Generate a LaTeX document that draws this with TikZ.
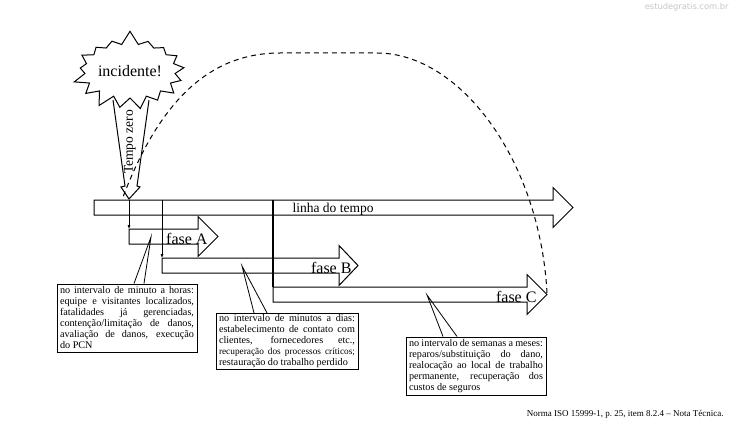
\documentclass[tikz,border=0pt]{standalone}
\usepackage{fontspec}
\setmainfont{Liberation Serif}
\newfontfamily\markfont{DejaVu Sans}
\usetikzlibrary{positioning, arrows.meta, shapes}

% block arrow: left x, centre y, head base x, tip x
\newcommand{\fasearrow}[4]{%
  \draw (#1,#2-7.5) -- (#3,#2-7.5) -- (#3,#2-20) -- (#4,#2) -- (#3,#2+20) -- (#3,#2+7.5) -- (#1,#2+7.5) -- cycle;}
\newcommand{\notafont}{\fontsize{10.2}{11}\selectfont\spaceskip=.25em plus 3em minus .2em\relax\hyphenpenalty=10000\relax}

\begin{document}
\begin{tikzpicture}[x=1pt, y=-1pt, line width=1pt,
    nota/.style={draw, align=justify, inner xsep=3pt, inner ysep=1.5pt, font=\notafont},
    rotulo/.style={font=\fontsize{16}{18}\selectfont, inner sep=0pt},
    queda/.style={-{Latex[length=4pt,width=3pt]}, line width=0.7pt}]
    \useasboundingbox (0,0) rectangle (736,428);

    % time line and phases
    \fasearrow{94}{207.5}{553}{573}
    \node[anchor=base west, font=\fontsize{13.5}{15}\selectfont, inner sep=0pt] (linha) at (292,212) {linha do tempo};
    \fasearrow{129}{236.5}{198}{218}
    \fasearrow{162}{265.5}{339}{358}
    \fasearrow{273}{294.5}{527}{547}
    \node[rotulo, anchor=base east] (faseA) at (208,244) {fase A};
    \node[rotulo, anchor=base east] (faseB) at (352,273) {fase B};
    \node[rotulo, anchor=base east] (faseC) at (537,302) {fase C};

    % starts of the phases
    \coordinate (zeroA) at (129,200); \coordinate (inicioA) at (129,229);
    \coordinate (zeroB) at (162,200); \coordinate (inicioB) at (162,258);
    \coordinate (zeroC) at (273,200); \coordinate (inicioC) at (273,287);
    \draw[queda] (zeroA) -- (inicioA);
    \draw[queda] (zeroB) -- (inicioB);
    \draw[line width=2.5pt] (zeroC) -- (inicioC);

    % back to the start
    \draw[dash pattern=on 5pt off 4pt] (547,293) .. controls (540,160) and (460,53) .. (377,53) -- (280,53) .. controls (210,53) and (160,100) .. (123,197);

    % incident
    \draw (113,100) -- (125,186) -- (121,187) -- (129,199) -- (140,187) -- (137,186) -- (149,100);
    \node[rotate=90, font=\fontsize{13.5}{15}\selectfont, inner sep=0pt] (zero) at (130,142) {Tempo zero};
    \node[starburst, draw, fill=white, starburst points=17, starburst point height=14pt,
      minimum width=100pt, minimum height=82pt, inner sep=0pt, random starburst=7,
      font=\fontsize{16}{18}\selectfont] (incidente) at (130,71) {incidente!};

    % notes
    \node[nota, text width=134pt, minimum height=68pt] (notaA) at (127,318) {no intervalo de minuto a horas:\linebreak equipe e visitantes localizados,\linebreak fatalidades já gerenciadas,\linebreak contenção/limitação de danos,\linebreak avaliação de danos, execução\linebreak do PCN};
    \node[nota, text width=136pt, minimum height=53pt] (notaB) at (287,341.5) {no intervalo de minutos a dias:\linebreak estabelecimento de contato com\linebreak clientes, fornecedores etc.,\linebreak {\fontsize{9.3}{11}\selectfont recuperação dos processos críticos;}\linebreak restauração do trabalho perdido};
    \node[nota, text width=134pt, minimum height=58pt] (notaC) at (476,366) {no intervalo de semanas a meses:\linebreak reparos/substituição do dano,\linebreak realocação ao local de trabalho\linebreak permanente, recuperação dos\linebreak custos de seguros};
    \coordinate (pontaA) at (151,237);
    \coordinate (pontaB) at (242,266);
    \coordinate (pontaC) at (427,295);
    \draw[line width=0.8pt] ([xshift=7pt]notaA.north) -- (pontaA) -- ([xshift=17pt]notaA.north);
    \draw[line width=0.8pt] ([xshift=-33pt]notaB.north) -- (pontaB) -- ([xshift=-20pt]notaB.north);
    \draw[line width=0.8pt] ([xshift=-33pt]notaC.north) -- (pontaC) -- ([xshift=-19pt]notaC.north);

    \node[anchor=base east, font=\fontsize{9}{10}\selectfont, inner sep=0pt] (fonte) at (724,416) {Norma ISO 15999-1, p.~25, item 8.2.4 -- Nota Técnica.};
    \node[anchor=north east, inner sep=0pt, text=gray!45, font=\markfont\fontsize{8.3}{9}\selectfont] (marca) at (729,3) {estudegratis.com.br};
\end{tikzpicture}
\end{document}
